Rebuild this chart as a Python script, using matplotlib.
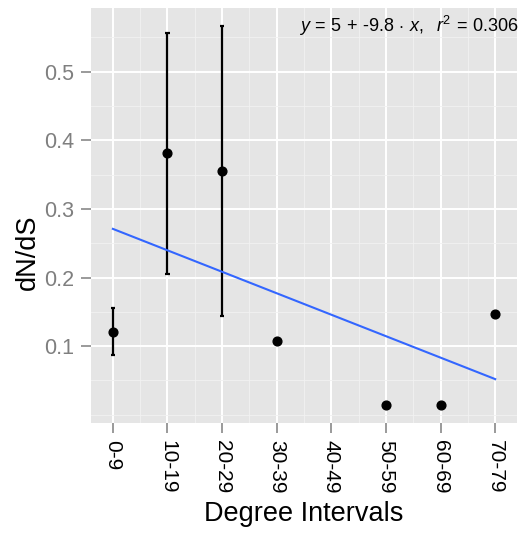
import numpy as np
import matplotlib.pyplot as plt
from matplotlib.ticker import MultipleLocator

plt.rcParams["font.family"] = ["Liberation Sans", "DejaVu Sans"]
plt.rcParams["mathtext.fontset"] = "custom"
plt.rcParams["mathtext.rm"] = "Liberation Sans"
plt.rcParams["mathtext.it"] = "Liberation Sans:italic"

# degree interval categories
intervals = ["0-9", "10-19", "20-29", "30-39", "40-49", "50-59", "60-69", "70-79"]

# observed dN/dS per interval (40-49 has no value)
point_cats = ["0-9", "10-19", "20-29", "30-39", "50-59", "60-69", "70-79"]
dnds = [0.120, 0.381, 0.355, 0.108, 0.0146, 0.0146, 0.1466]

# error bars where available
err_cats = ["0-9", "10-19", "20-29"]
err_low = [0.087, 0.205, 0.144]
err_high = [0.155, 0.557, 0.567]

# fitted line end values
fit_cats = ["0-9", "70-79"]
fit_vals = [0.271, 0.052]

label = r"$y\,=\,5\,+\,$-$9.8\,\cdot\,x,\ \ r^2\,=\,0.306$"

pos = {c: i for i, c in enumerate(intervals)}

fig = plt.figure(figsize=(5.24, 5.39), dpi=100)
ax = fig.add_axes([0.1737, 0.2152, 0.8130, 0.7700])
ax.set_facecolor("#E5E5E5")

px = [pos[c] for c in point_cats]
ex = np.array([pos[c] for c in err_cats])
ax.vlines(ex, err_low, err_high, color="black", lw=1.6, zorder=3)
ax.hlines(err_low, ex - 0.04, ex + 0.04, color="black", lw=1.6, zorder=3)
ax.hlines(err_high, ex - 0.04, ex + 0.04, color="black", lw=1.6, zorder=3)
ax.plot([pos[c] for c in fit_cats], fit_vals, color="#3366FF", lw=1.5, zorder=3)
ax.plot(px, dnds, "o", color="black", ms=6.3, zorder=4)

ax.set_xlim(-0.4, 7.4)
ax.set_ylim(-0.012, 0.593)
ax.set_xticks(range(len(intervals)))
ax.set_xticklabels(intervals, rotation=-90)
ax.set_yticks([0.1, 0.2, 0.3, 0.4, 0.5])
ax.set_yticklabels(["0.1", "0.2", "0.3", "0.4", "0.5"])
ax.set_xticks(np.arange(len(intervals) - 1) + 0.5, minor=True)
ax.yaxis.set_minor_locator(MultipleLocator(0.05))

ax.grid(which="major", color="white", lw=1.4)
ax.grid(which="minor", color="#F2F2F2", lw=0.6)
ax.set_axisbelow(True)
for s in ax.spines.values():
    s.set_visible(False)

ax.tick_params(which="major", length=7.5, width=1.1, color="#7F7F7F",
               labelcolor="#7F7F7F", labelsize=15.5, pad=4.5)
ax.tick_params(axis="x", labelcolor="black", labelsize=15)
ax.tick_params(which="minor", length=0)

ax.set_xlabel("Degree Intervals", fontsize=19.5, labelpad=5.5)
ax.set_ylabel("dN/dS", fontsize=19.5)
ax.yaxis.set_label_coords(-0.117, 0.412)

ax.text(1.002, 0.985, label, transform=ax.transAxes, ha="right", va="top",
        fontsize=13)

fig.savefig("out.png", dpi=100)
